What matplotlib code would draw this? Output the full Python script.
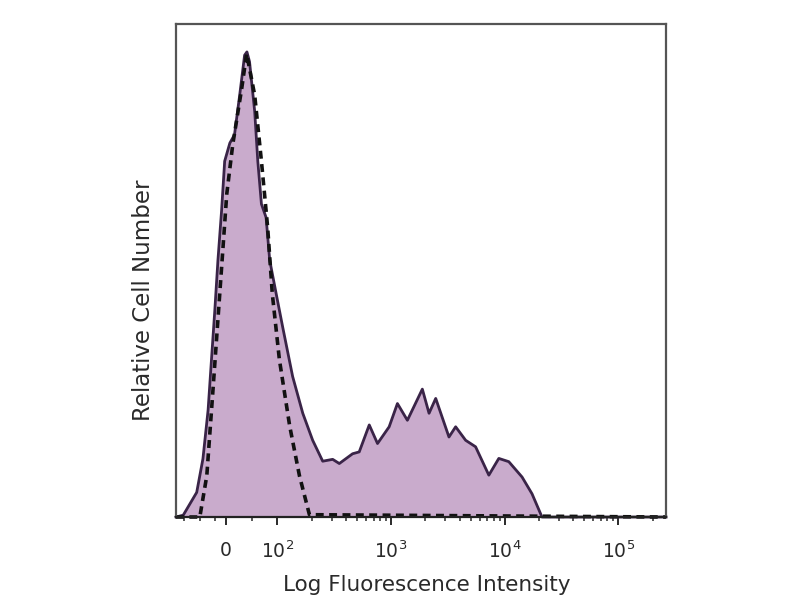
import matplotlib
matplotlib.use("Agg")
import matplotlib.pyplot as plt
import numpy as np

# Fluorescence intensity (data units) and relative cell counts
stained_x = [-96, -82, -56, -44, -34, -27.5, -21, -15, -8, -2, 8, 17, 27, 36.5, 41,
             46, 56, 62, 69, 78, 85, 97.5, 111, 136, 167, 204, 250, 306, 350, 458,
             524, 642, 759, 961, 1136, 1390, 1882, 2156, 2468, 3228, 3696, 4523,
             5535, 7241, 8860, 10845, 14190, 17360, 21250, 262144]
stained_y = [0, 0.4, 5.3, 12.5, 23, 33.8, 44.5, 55.2, 65.8, 76.5, 80.4, 82.2, 90.7,
             99.3, 100, 97.9, 87.2, 76.5, 67.3, 64.4, 55.2, 48, 40.9, 30.2, 22.3, 16.5,
             12, 12.4, 11.5, 13.6, 14.0, 19.8, 15.8, 19.4, 24.4, 20.8, 27.5, 22.3, 25.5,
             17.2, 19.4, 16.5, 15.1, 9.0, 12.6, 11.9, 8.6, 5.0, 0, 0]

control_x = [-96, -50, -36.5, -25, -11.5, 2, 13.5, 31, 40.4, 56, 69, 81, 90, 104,
             128, 156, 191, 262144]
control_y = [0, 0, 8.9, 26.7, 48, 69.4, 80, 92.2, 99.6, 90.7, 76.5, 62.3, 48, 33.8,
             19.6, 8.9, 0.5, 0]

tick_values = [0, 1e2, 1e3, 1e4, 1e5]
tick_labels = ["0", r"$10^2$", r"$10^3$", r"$10^4$", r"$10^5$"]
minor_values = [-80, -50, -20, 50, 200, 300, 400, 500, 600, 700, 800, 900,
                2000, 3000, 4000, 5000, 6000, 7000, 8000, 9000,
                20000, 30000, 40000, 50000, 60000, 70000, 80000, 90000, 200000]

plt.rcParams['font.family'] = ['DejaVu Sans']

fig = plt.figure(figsize=(8, 6), dpi=100)
ax = fig.add_axes([0.22, 0.1383, 0.6125, 0.8217])

ax.set_xscale('symlog', linthresh=100, linscale=0.41)
ax.set_xlim(-96, 262144)
ax.set_ylim(0, 106)

ax.fill_between(stained_x, stained_y, 0, color='#c9abcc', linewidth=0)
ax.plot(stained_x, stained_y, color='#3a2448', linewidth=2.0, clip_on=False,
        solid_joinstyle='round')
ax.plot(control_x, control_y, color='#111111', linewidth=2.6, linestyle=(0, (2.2, 1.5)),
        clip_on=False)

ax.set_xticks(tick_values)
ax.set_xticklabels(tick_labels)
ax.set_xticks(minor_values, minor=True)
ax.tick_params(axis='x', which='major', direction='out', length=6, width=1.4,
               labelsize=13.5, pad=11, colors='#2a2a2a')
ax.tick_params(axis='x', which='minor', direction='out', length=3, width=1.1,
               colors='#2a2a2a')
ax.set_yticks([])

for s in ax.spines.values():
    s.set_color('#555555')
    s.set_linewidth(1.6)
ax.spines['bottom'].set_color('#222222')

ax.set_xlabel("Log Fluorescence Intensity", fontsize=15.5, color='#2a2a2a')
ax.xaxis.set_label_coords(0.512, -0.138)
ax.xaxis.label.set_va('center')
ax.set_ylabel("Relative Cell Number", fontsize=16.5, color='#2a2a2a')
ax.yaxis.set_label_coords(-0.067, 0.44)
ax.yaxis.label.set_va('center')

fig.savefig("out.png", dpi=100, facecolor='white')
